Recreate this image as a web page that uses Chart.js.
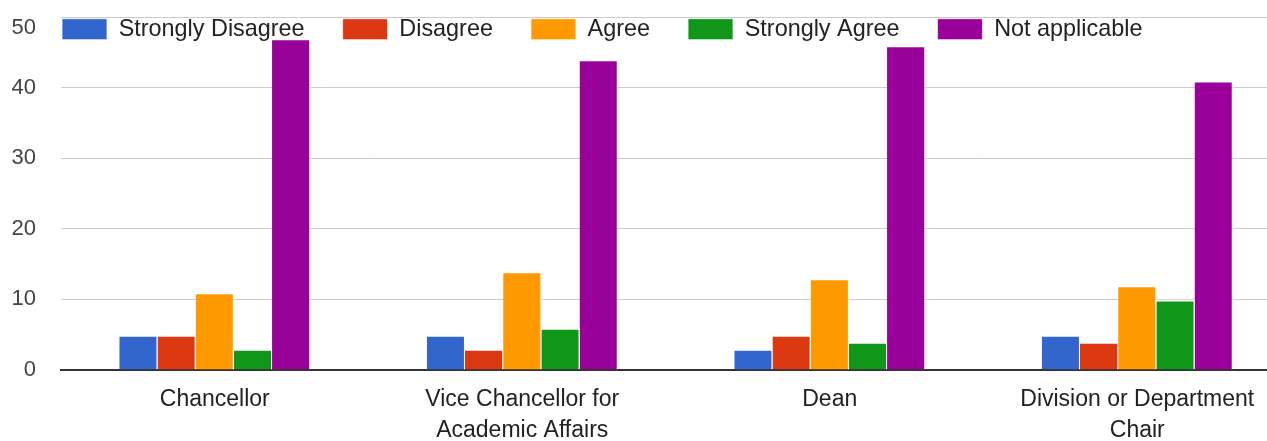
<!DOCTYPE html>
<html>
<head>
<meta charset="utf-8">
<script src="https://cdn.jsdelivr.net/npm/chart.js@4/dist/chart.umd.min.js"></script>
<style>
  html, body { margin: 0; padding: 0; background: #fff; overflow: hidden; }
  #wrap { width: 1291px; height: 441px; }
</style>
</head>
<body>
<div id="wrap"><canvas id="survey-chart" width="1291" height="441"></canvas></div>
<script>
const categories = [
  "Chancellor",
  ["Vice Chancellor for", "Academic Affairs"],
  "Dean",
  ["Division or Department", "Chair"],
];
const seriesLabels = ["Strongly Disagree", "Disagree", "Agree", "Strongly Agree", "Not applicable"];
const stronglyDisagree = [5, 5, 3, 5];
const disagree = [5, 3, 5, 4];
const agree = [11, 14, 13, 12];
const stronglyAgree = [3, 6, 4, 10];
const notApplicable = [47, 44, 46, 41];
const yTicks = [0, 10, 20, 30, 40, 50];

const palette = ["#3366cc", "#dc3912", "#ff9900", "#109618", "#990099"];
const fontFamily = "'Liberation Sans', Arial, sans-serif";

const datasets = [stronglyDisagree, disagree, agree, stronglyAgree, notApplicable].map((values, index) => ({
  label: seriesLabels[index],
  data: values,
  backgroundColor: palette[index],
  borderColor: "#ffffff",
  borderWidth: { top: 2, right: 1, left: 0, bottom: 0 },
  borderSkipped: false,
  categoryPercentage: 0.621,
  barPercentage: 1,
}));

// legend sits inside the plot as one row, flush with its top-left corner
const legendInPlot = {
  id: "legendInPlot",
  beforeLayout(chart) {
    if (chart.legend) chart.legend.isHorizontal = () => true;
  },
  afterLayout(chart) {
    const legend = chart.legend;
    if (!legend) return;
    const pad = legend.options.labels.padding;
    legend.left = 62 - pad;
    legend.top = 17.5 - pad;
  },
};

new Chart(document.getElementById("survey-chart"), {
  type: "bar",
  data: { labels: categories, datasets },
  plugins: [legendInPlot],
  options: {
    responsive: false,
    animation: false,
    layout: { padding: { top: 17, left: 0, right: 0, bottom: 0 } },
    plugins: {
      tooltip: { enabled: false },
      legend: {
        position: "chartArea",
        align: "start",
        labels: {
          boxWidth: 45,
          boxHeight: 21,
          padding: 38,
          color: "#222222",
          font: { family: fontFamily, size: 23.4 },
        },
      },
    },
    scales: {
      x: {
        grid: { display: false, drawTicks: false },
        border: { display: true, color: "#333333", width: 2 },
        ticks: {
          color: "#222222",
          padding: 14,
          maxRotation: 0,
          autoSkip: false,
          font: { family: fontFamily, size: 23, lineHeight: "31px" },
        },
        afterFit(scale) {
          scale.height = 71;
        },
      },
      y: {
        min: 0,
        max: 50,
        afterBuildTicks(scale) {
          scale.ticks = yTicks.map((value) => ({ value }));
        },
        grid: { color: "#cccccc", lineWidth: 1, drawTicks: false },
        border: { display: false },
        ticks: {
          color: "#444444",
          padding: 25,
          font: { family: fontFamily, size: 22, lineHeight: 1 },
          callback: (value) => (value === 50 ? ["", "50"] : String(value)),
        },
        afterFit(scale) {
          scale.width = 61;
          scale.paddingTop = 0;
          scale.paddingBottom = 0;
        },
      },
    },
  },
});
</script>
</body>
</html>
